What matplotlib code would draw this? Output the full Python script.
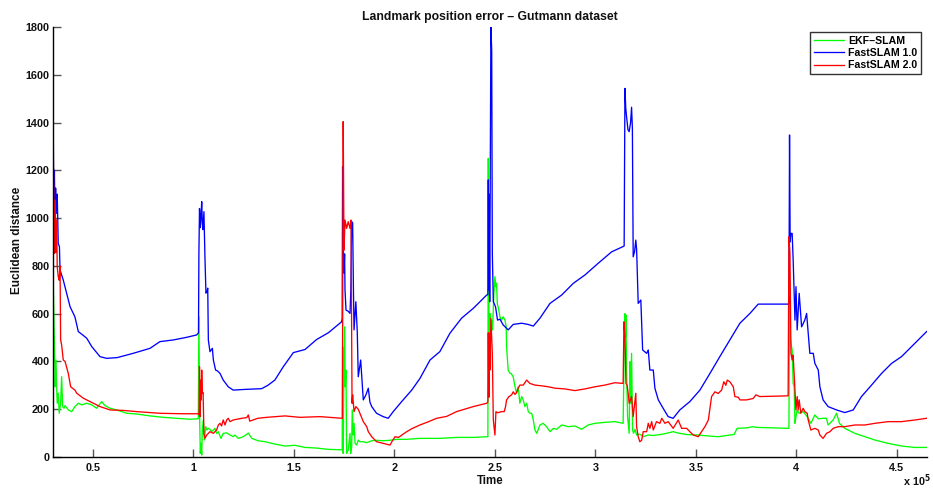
import matplotlib
matplotlib.use("Agg")
import matplotlib.pyplot as plt
import numpy as np

plt.rcParams['font.family'] = ['Liberation Sans', 'DejaVu Sans']
plt.rcParams['font.weight'] = 'bold'

TIME_SCALE = 1e5

# EKF-SLAM landmark error (time in units of 1e5)
ekf_t = [0.301, 0.3015, 0.306, 0.309, 0.312, 0.316, 0.319, 0.322, 0.327, 0.332, 0.339, 0.344,
         0.349, 0.356, 0.361, 0.377, 0.394, 0.410, 0.427, 0.444, 0.469, 0.494, 0.518, 0.543,
         0.560, 0.585, 0.618, 0.668, 0.717, 0.784, 0.850, 0.916, 0.983, 1.024,
         1.027, 1.031, 1.034, 1.037, 1.041, 1.044, 1.049, 1.054, 1.061, 1.067, 1.074, 1.082,
         1.091, 1.107, 1.115, 1.123, 1.137, 1.148, 1.165, 1.182, 1.198, 1.206, 1.223, 1.248,
         1.273, 1.290, 1.322, 1.356, 1.405, 1.455, 1.505, 1.555, 1.604, 1.671, 1.737,
         1.740, 1.742, 1.745, 1.748, 1.752, 1.755, 1.759, 1.762, 1.770, 1.779, 1.782, 1.787,
         1.790, 1.795, 1.799, 1.804, 1.812, 1.820, 1.828, 1.845, 1.862, 1.887, 1.911, 1.944,
         1.978, 2.011, 2.061, 2.127, 2.226, 2.309, 2.392, 2.459, 2.465,
         2.467, 2.470, 2.473, 2.476, 2.480, 2.484, 2.488, 2.495, 2.500, 2.505, 2.508, 2.512,
         2.516, 2.525, 2.533, 2.541, 2.550, 2.556, 2.558, 2.566, 2.575, 2.580, 2.591, 2.600,
         2.608, 2.616, 2.624, 2.633, 2.641, 2.649, 2.658, 2.666, 2.674, 2.683, 2.691, 2.699,
         2.708, 2.724, 2.740, 2.757, 2.774, 2.791, 2.807, 2.832, 2.865, 2.898, 2.931, 2.964,
         2.998, 3.047, 3.097, 3.138,
         3.143, 3.147, 3.150, 3.152, 3.155, 3.160, 3.168, 3.172, 3.176, 3.180, 3.185, 3.190,
         3.197, 3.205, 3.221, 3.238, 3.263, 3.288, 3.337, 3.387, 3.412, 3.454, 3.512, 3.562,
         3.611, 3.669, 3.690, 3.705, 3.752, 3.785, 3.800, 3.959,
         3.963, 3.966, 3.968, 3.973, 3.979, 3.984, 3.989, 3.993, 3.998, 4.004, 4.014, 4.034,
         4.054, 4.072, 4.092, 4.109, 4.133, 4.150, 4.158, 4.183, 4.200, 4.215, 4.241, 4.291,
         4.341, 4.391, 4.457, 4.523, 4.590, 4.648]
ekf_err = [290, 755, 573, 434, 294, 406, 294, 225, 267, 183, 225, 336,
           211, 204, 215, 197, 190, 211, 225, 218, 225, 218, 204, 232,
           215, 204, 197, 183, 180, 172, 166, 162, 158, 160,
           587, 150, 15, 57, 8, 113, 155, 71, 127, 113, 120, 116,
           106, 120, 99, 106, 78, 99, 101, 92, 85, 92, 78, 85,
           100, 78, 68, 64, 54, 46, 49, 40, 38, 32, 30,
           30, 462, 15, 300, 545, 294, 364, 15, 29, 99, 15, 40,
           197, 92, 141, 57, 50, 71, 64, 64, 60, 68, 70, 68,
           70, 74, 74, 78, 78, 82, 82, 85, 85,
           1250, 615, 434, 600, 520, 573, 532, 685, 755, 713, 727, 640,
           629, 587, 573, 587, 573, 545, 462, 364, 350, 350, 336, 294,
           267, 294, 225, 253, 239, 211, 225, 190, 183, 183, 155, 113,
           99, 134, 141, 127, 106, 120, 116, 134, 127, 130, 116, 134,
           141, 145, 148, 141,
           434, 600, 504, 594, 378, 169, 99, 399, 225, 434, 113, 99,
           116, 92, 96, 85, 92, 90, 96, 106, 100, 94, 92, 88,
           85, 92, 94, 120, 122, 127, 124, 120,
           120, 671, 532, 476, 448, 308, 294, 141, 169, 197, 183, 190,
           169, 141, 176, 160, 162, 162, 134, 155, 183, 140, 120, 99,
           85, 71, 57, 46, 40, 40]

# FastSLAM 1.0 landmark error
fs1_t = [0.301, 0.3015, 0.305, 0.308, 0.311, 0.314, 0.318, 0.322, 0.327, 0.333, 0.336, 0.352,
         0.369, 0.386, 0.410, 0.427, 0.450, 0.469, 0.494, 0.535, 0.568, 0.620, 0.700, 0.784,
         0.833, 0.900, 0.966, 1.016, 1.025,
         1.027, 1.030, 1.034, 1.037, 1.041, 1.044, 1.047, 1.052, 1.057, 1.062, 1.067, 1.071,
         1.074, 1.082, 1.094, 1.099, 1.110, 1.120, 1.132, 1.148, 1.173, 1.198, 1.256, 1.339,
         1.370, 1.405, 1.447, 1.497, 1.555, 1.613, 1.671, 1.737,
         1.740, 1.742, 1.745, 1.749, 1.752, 1.754, 1.759, 1.770, 1.779, 1.783, 1.787, 1.792,
         1.796, 1.799, 1.808, 1.815, 1.820, 1.832, 1.845, 1.858, 1.870, 1.878, 1.887, 1.911,
         1.944, 1.969, 1.994, 2.036, 2.086, 2.127, 2.177, 2.226, 2.276, 2.334, 2.392, 2.459,
         2.465,
         2.467, 2.469, 2.471, 2.474, 2.477, 2.480, 2.484, 2.487, 2.492, 2.503, 2.513, 2.525,
         2.541, 2.566, 2.591, 2.633, 2.665, 2.691, 2.724, 2.774, 2.832, 2.890, 2.948, 3.014,
         3.081, 3.143,
         3.147, 3.151, 3.155, 3.162, 3.168, 3.175, 3.180, 3.184, 3.188, 3.195, 3.201, 3.205,
         3.213, 3.226, 3.235, 3.255, 3.263, 3.271, 3.288, 3.296, 3.313, 3.337, 3.362, 3.387,
         3.420, 3.470, 3.520, 3.570, 3.619, 3.669, 3.719, 3.769, 3.810, 3.963,
         3.966, 3.969, 3.973, 3.979, 3.984, 3.993, 3.998, 4.004, 4.014, 4.026, 4.042, 4.051,
         4.067, 4.084, 4.092, 4.109, 4.117, 4.133, 4.158, 4.200, 4.241, 4.283, 4.324, 4.374,
         4.424, 4.474, 4.523, 4.573, 4.623, 4.648]
fs1_err = [900, 1505, 990, 1200, 980, 1126, 1020, 1100, 894, 880, 783, 741,
           685, 629, 587, 525, 510, 497, 462, 420, 413, 416, 434, 455,
           483, 490, 501, 511, 520,
           854, 1040, 960, 1000, 1069, 980, 952, 1027, 840, 686, 690, 707,
           490, 441, 455, 406, 364, 360, 350, 322, 294, 280, 283, 286,
           300, 322, 378, 437, 450, 492, 520, 566,
           580, 1215, 900, 769, 850, 699, 615, 610, 601, 700, 985, 980,
           700, 532, 650, 525, 336, 406, 239, 260, 288, 230, 211, 183,
           169, 162, 190, 232, 280, 329, 406, 441, 518, 581, 622, 678,
           680,
           1160, 700, 1100, 650, 1200, 1801, 1700, 854, 650, 629, 573, 577,
           553, 532, 555, 560, 555, 548, 581, 643, 678, 727, 762, 811,
           859, 883,
           1543, 1460, 1425, 1370, 1362, 1400, 1464, 1376, 838, 860, 908, 870,
           643, 657, 448, 434, 448, 364, 364, 288, 239, 204, 169, 162,
           197, 232, 280, 350, 420, 490, 560, 601, 640, 640,
           1348, 900, 936, 936, 825, 573, 713, 532, 685, 545, 573, 601,
           434, 434, 392, 364, 294, 239, 211, 197, 186, 197, 253, 301,
           350, 392, 420, 462, 504, 525]

# FastSLAM 2.0 landmark error
fs2_t = [0.301, 0.3015, 0.306, 0.309, 0.312, 0.316, 0.319, 0.322, 0.327, 0.332, 0.336, 0.339,
         0.344, 0.352, 0.361, 0.377, 0.389, 0.410, 0.419, 0.452, 0.485, 0.535, 0.585, 0.651,
         0.717, 0.833, 0.949, 1.024, 1.028,
         1.030, 1.033, 1.037, 1.039, 1.041, 1.044, 1.048, 1.052, 1.057, 1.066, 1.082, 1.099,
         1.115, 1.124, 1.132, 1.140, 1.148, 1.157, 1.165, 1.173, 1.182, 1.198, 1.240, 1.265,
         1.273, 1.280, 1.320, 1.364, 1.455, 1.530, 1.629, 1.737,
         1.741, 1.745, 1.749, 1.754, 1.762, 1.770, 1.779, 1.784, 1.789, 1.792, 1.799, 1.808,
         1.820, 1.828, 1.845, 1.862, 1.870, 1.887, 1.911, 1.944, 1.978, 1.990, 2.003, 2.020,
         2.061, 2.090, 2.127, 2.170, 2.210, 2.260, 2.309, 2.392, 2.459, 2.465,
         2.467, 2.470, 2.473, 2.475, 2.480, 2.487, 2.492, 2.500, 2.505, 2.513, 2.533, 2.546,
         2.553, 2.558, 2.570, 2.583, 2.591, 2.600, 2.608, 2.616, 2.624, 2.641, 2.658, 2.674,
         2.699, 2.732, 2.765, 2.799, 2.848, 2.898, 2.948, 2.998, 3.047, 3.097, 3.138,
         3.142, 3.147, 3.152, 3.158, 3.163, 3.168, 3.180, 3.188, 3.197, 3.201, 3.205, 3.213,
         3.221, 3.230, 3.238, 3.255, 3.263, 3.271, 3.280, 3.288, 3.304, 3.321, 3.330, 3.346,
         3.362, 3.387, 3.412, 3.429, 3.454, 3.470, 3.487, 3.512, 3.528, 3.545, 3.562, 3.578,
         3.595, 3.611, 3.628, 3.639, 3.649, 3.656, 3.669, 3.686, 3.694, 3.711, 3.719, 3.752,
         3.785, 3.799, 3.818, 3.959,
         3.963, 3.968, 3.973, 3.979, 3.984, 3.989, 3.993, 3.998, 4.004, 4.009, 4.014, 4.022,
         4.034, 4.042, 4.054, 4.059, 4.072, 4.092, 4.109, 4.117, 4.133, 4.150, 4.167, 4.183,
         4.208, 4.241, 4.291, 4.341, 4.391, 4.457, 4.523, 4.590, 4.648]
fs2_err = [700, 1355, 978, 853, 1076, 857, 992, 797, 755, 740, 800, 490,
           469, 406, 400, 350, 294, 280, 267, 246, 232, 211, 197, 195,
           190, 183, 181, 181, 178,
           378, 169, 322, 239, 364, 267, 270, 99, 78, 92, 106, 99,
           113, 134, 141, 130, 155, 134, 155, 162, 148, 155, 162, 165,
           176, 150, 162, 166, 172, 166, 169, 162,
           162, 1404, 866, 992, 957, 985, 957, 992, 225, 260, 190, 211,
           200, 183, 148, 127, 106, 85, 64, 57, 50, 68, 85, 82,
           106, 120, 134, 148, 162, 170, 190, 211, 225, 230,
           520, 250, 518, 364, 581, 434, 155, 92, 190, 185, 190, 190,
           211, 239, 253, 260, 273, 262, 270, 288, 301, 301, 322, 308,
           301, 298, 294, 288, 285, 278, 285, 294, 301, 311, 308,
           566, 504, 308, 300, 267, 225, 253, 169, 239, 267, 127, 85,
           64, 70, 106, 106, 141, 120, 148, 113, 148, 141, 162, 141,
           148, 120, 155, 120, 120, 106, 92, 85, 106, 127, 155, 253,
           273, 266, 280, 315, 300, 322, 315, 294, 253, 250, 239, 239,
           245, 260, 253, 256,
           922, 853, 434, 406, 427, 350, 280, 197, 253, 197, 239, 183,
           204, 190, 183, 155, 113, 120, 113, 92, 78, 99, 106, 120,
           127, 127, 134, 134, 141, 148, 148, 155, 162]

series_labels = ['EKF–SLAM', 'FastSLAM 1.0', 'FastSLAM 2.0']
series_colors = ['#00ff00', '#0000ff', '#ff0000']

x_ticks = [0.5, 1, 1.5, 2, 2.5, 3, 3.5, 4, 4.5]
x_tick_labels = ['0.5', '1', '1.5', '2', '2.5', '3', '3.5', '4', '4.5']
y_ticks = [0, 200, 400, 600, 800, 1000, 1200, 1400, 1600, 1800]

W, H = 933, 497
fig = plt.figure(figsize=(W / 100, H / 100), dpi=100)
ax = fig.add_axes([53 / W, 40 / H, (927 - 53) / W, (457 - 27) / H])

for t, e, lab, col in zip([ekf_t, fs1_t, fs2_t], [ekf_err, fs1_err, fs2_err],
                          series_labels, series_colors):
    ax.plot(np.array(t) * TIME_SCALE, e, color=col, lw=0.95, label=lab)

ax.set_xlim(0.301 * TIME_SCALE, 4.65 * TIME_SCALE)
ax.set_ylim(0, 1800)
ax.set_xticks(np.array(x_ticks) * TIME_SCALE)
ax.set_xticklabels(x_tick_labels)
ax.set_yticks(y_ticks)
ax.set_yticklabels([str(v) for v in y_ticks])

for side in ('top', 'right'):
    ax.spines[side].set_visible(False)
for side in ('left', 'bottom'):
    ax.spines[side].set_linewidth(1.0)
    ax.spines[side].set_color('black')

ax.tick_params(direction='in', length=5.8, width=1.0, color='#555555',
               labelsize=7.8, labelcolor='#111111')
ax.tick_params(axis='x', pad=4)
ax.tick_params(axis='y', pad=2.5)
for lbl in ax.get_xticklabels() + ax.get_yticklabels():
    lbl.set_fontweight('bold')

ax.set_title('Landmark position error – Gutmann dataset', fontsize=8.8,
             fontweight='bold', pad=5, color='#111111')
ax.set_xlabel('Time', fontsize=8.3, fontweight='bold', labelpad=1.5, color='#111111')
ax.set_ylabel('Euclidean distance', fontsize=8.5, fontweight='bold', labelpad=1,
              color='#111111')
ax.yaxis.set_label_coords(17 / W, 1 - 240 / H, transform=fig.transFigure)
ax.yaxis.label.set_verticalalignment('center')

fig.text(903 / W, 1 - 489 / H, r'x 10$^{\mathbf{5}}$', fontsize=7.8, fontweight='bold',
         ha='left', va='bottom', color='#111111')

leg = ax.legend(loc='upper right', bbox_to_anchor=(921 / W, 1 - 32 / H),
                bbox_transform=fig.transFigure, fontsize=7.6, frameon=True,
                fancybox=False, borderaxespad=0, handlelength=2.9,
                handletextpad=0.35, labelspacing=0.22, borderpad=0.35)
leg.get_frame().set_edgecolor('black')
leg.get_frame().set_linewidth(1.0)
for txt in leg.get_texts():
    txt.set_fontweight('bold')

fig.savefig('out.png', dpi=100)
